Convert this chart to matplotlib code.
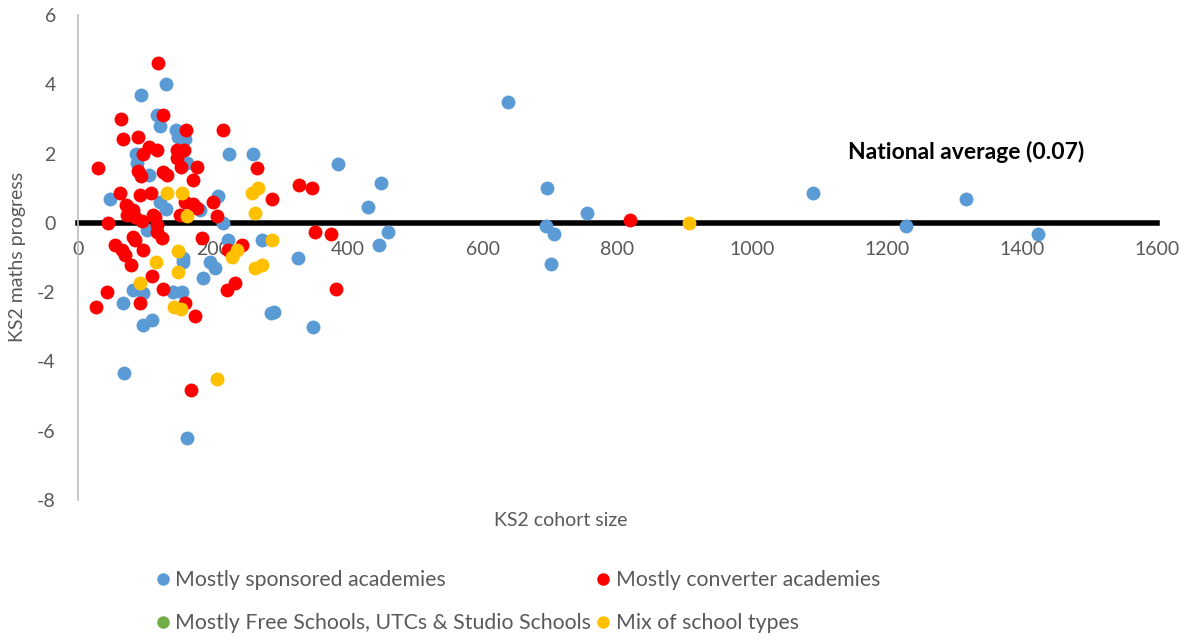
import matplotlib
matplotlib.use("Agg")
import matplotlib.pyplot as plt
from matplotlib.lines import Line2D

plt.rcParams["font.family"] = ["Lato", "DejaVu Sans"]
plt.rcParams["axes.unicode_minus"] = False

# KS2 cohort size / KS2 maths progress
sponsored_x = [637, 1090, 1317, 1228, 1424, 755, 695, 694, 706, 702, 449, 430, 460, 447,
               385, 348, 326, 290, 286, 260, 273, 224, 208, 215, 223, 161, 68, 130, 93,
               117, 122, 145, 148, 159, 86, 87, 161, 105, 47, 122, 130, 181, 67, 82, 97,
               110, 97, 141, 154, 156, 156, 196, 203, 186, 102]
sponsored_y = [3.5, 0.87, 0.69, -0.1, -0.32, 0.29, 1.0, -0.1, -0.32, -1.2, 1.16, 0.47, -0.26, -0.64,
               1.7, -3.0, -1.0, -2.57, -2.6, 2.0, -0.49, 2.0, 0.78, 0.0, -0.49, -6.2, -4.33, 4.0, 3.7,
               3.12, 2.8, 2.68, 2.48, 2.42, 1.98, 1.73, 1.73, 1.38, 0.7, 0.6, 0.4, 0.36, -2.3, -1.93, -2.02,
               -2.8, -2.95, -2.0, -2.0, -1.0, -1.13, -1.13, -1.3, -1.6, -0.2]

converter_x = [119, 126, 64, 67, 89, 160, 215, 105, 117, 97, 147, 157, 147, 153, 30, 89, 94,
               126, 132, 176, 171, 265, 328, 347, 62, 92, 108, 71, 73, 82, 72, 111, 151, 159,
               171, 176, 200, 206, 288, 44, 95, 117, 85, 114, 819, 55, 65, 70, 85, 82, 96,
               124, 117, 78, 110, 126, 43, 27, 92, 159, 174, 184, 243, 223, 221, 233, 352,
               375, 383, 168]
converter_y = [4.62, 3.12, 3.0, 2.42, 2.48, 2.68, 2.68, 2.2, 2.1, 1.98, 2.1, 2.1, 1.88, 1.6, 1.58, 1.5, 1.36,
               1.47, 1.38, 1.6, 1.25, 1.58, 1.1, 1.0, 0.87, 0.8, 0.87, 0.52, 0.49, 0.37, 0.23, 0.23, 0.23, 0.6,
               0.55, 0.43, 0.6, 0.2, 0.7, 0.0, 0.05, -0.06, 0.17, 0.17, 0.09, -0.64, -0.78, -0.92, -0.5, -0.4, -0.78,
               -0.43, -0.26, -1.21, -1.53, -1.9, -2.0, -2.42, -2.3, -2.3, -2.7, -0.43, -0.64, -0.78, -1.93, -1.73, -0.26,
               -0.32, -1.9, -4.82]

free_x = []
free_y = []

mix_x = [906, 132, 154, 161, 258, 267, 263, 288, 236, 228, 148, 148, 116, 92, 142, 153, 263, 273, 206]
mix_y = [0.0, 0.87, 0.87, 0.2, 0.87, 1.0, 0.29, -0.49, -0.78, -0.98, -0.81, -1.41, -1.13, -1.73, -2.42, -2.5,
         -1.3, -1.21, -4.5]

national_average = 0.07

series = [
    ("Mostly sponsored academies", sponsored_x, sponsored_y, "#5B9BD5"),
    ("Mostly converter academies", converter_x, converter_y, "#FF0000"),
    ("Mostly Free Schools, UTCs & Studio Schools", free_x, free_y, "#70AD47"),
    ("Mix of school types", mix_x, mix_y, "#FFC000"),
]

grey = "#595959"

fig = plt.figure(figsize=(11.79, 6.4), dpi=100)
ax = fig.add_axes([78 / 1179, 1 - 500 / 640, (1157 - 78) / 1179, 485 / 640])

for name, xs, ys, colour in series:
    ax.scatter(xs, ys, s=100, color=colour, linewidths=0, zorder=3)

ax.set_xlim(0, 1600)
ax.set_ylim(-8, 6)
ax.set_xticks(range(0, 1601, 200))
ax.set_yticks(range(-8, 7, 2))

ax.spines["top"].set_visible(False)
ax.spines["right"].set_visible(False)
ax.spines["left"].set_color("#BFBFBF")
ax.spines["left"].set_linewidth(1.2)
ax.spines["bottom"].set_position(("data", 0))
ax.spines["bottom"].set_color("black")
ax.spines["bottom"].set_linewidth(4)
ax.spines["bottom"].set_zorder(2)

ax.tick_params(axis="x", length=0, pad=13, labelsize=14, labelcolor=grey)
ax.tick_params(axis="y", length=0, pad=16, labelsize=14, labelcolor=grey)

ax.text(1317, 2.05, f"National average ({national_average})", fontsize=16.5, fontweight="bold",
        ha="center", va="center", color="black")

fig.text(18 / 1179, 1 - 257 / 640, "KS2 maths progress", rotation=90, ha="center", va="center",
         fontsize=14, color=grey)
fig.text(561 / 1179, 1 - 520 / 640, "KS2 cohort size", ha="center", va="center",
         fontsize=14, color=grey)

handles = []
for name, xs, ys, colour in series:
    handles.append(Line2D([], [], marker="o", linestyle="none", markersize=9,
                          markerfacecolor=colour, markeredgewidth=0, label=name))
order = [0, 2, 1, 3]
leg = fig.legend([handles[i] for i in order], [series[i][0] for i in order],
                 ncol=2, loc="upper left", bbox_to_anchor=(154 / 1179, 1 - 570 / 640),
                 frameon=False, fontsize=15.3, handletextpad=0.2, handlelength=0.8,
                 columnspacing=0.15, labelspacing=1.1, borderaxespad=0, borderpad=0)
for t in leg.get_texts():
    t.set_color(grey)

fig.savefig("out.png", dpi=100)
